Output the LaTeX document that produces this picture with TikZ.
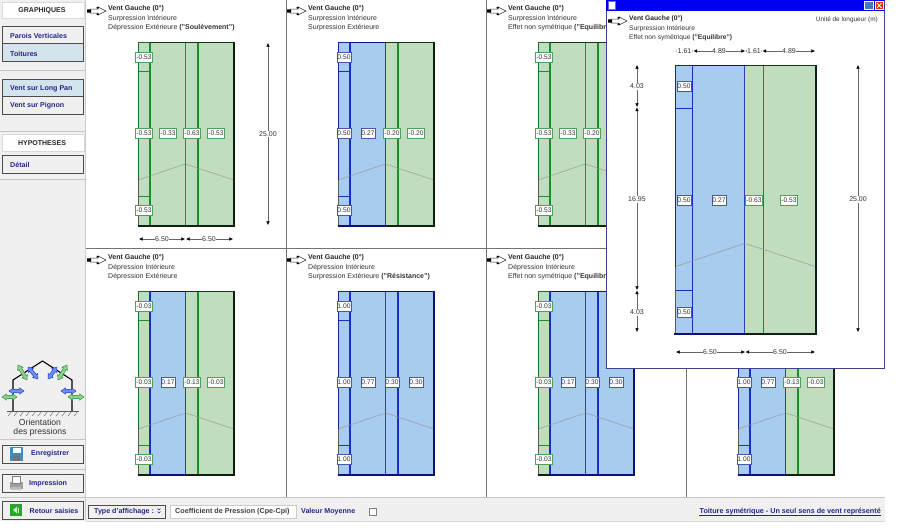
\documentclass[tikz,border=0pt]{standalone}
\usepackage{fontspec}
\setmainfont{Liberation Sans}
\usetikzlibrary{arrows.meta}
\definecolor{gF}{HTML}{C1DDBF}\definecolor{bF}{HTML}{A8CBF0}
\definecolor{gL}{HTML}{1E8C2E}\definecolor{bL}{HTML}{1830C0}
\definecolor{gD}{HTML}{0E3A14}\definecolor{bD}{HTML}{10107A}
\definecolor{gE}{HTML}{102010}\definecolor{bE}{HTML}{10107A}
\definecolor{gV}{HTML}{4CA05A}\definecolor{bV}{HTML}{4A55B0}
\definecolor{uiBg}{HTML}{F0F0F0}\definecolor{uiSel}{HTML}{D4E4EC}
\definecolor{navy}{HTML}{25258A}\definecolor{txt}{HTML}{333333}
\def\tsz{7}
\tikzset{
  smalltext/.style={font=\fontsize{\tsz}{8}\selectfont,text=txt,inner sep=0pt,anchor=west},
  boldtext/.style={font=\fontsize{\tsz}{8}\selectfont\bfseries,text=black!85,inner sep=0pt,anchor=west},
  uitext/.style={font=\fontsize{7.1}{8}\selectfont\bfseries,text=navy,inner sep=0pt,anchor=west},
  valbox/.style={font=\fontsize{6.7}{8}\selectfont,text=txt,fill=white,inner sep=0pt,minimum height=10pt,line width=.7pt},
  dimline/.style={draw=gray!80!black,line width=.5pt,{Latex[length=3.6pt,width=3.6pt,black]}-{Latex[length=3.6pt,width=3.6pt,black]}},
  dimtext/.style={font=\fontsize{7}{8}\selectfont,text=txt,fill=white,inner sep=.6pt},
  divider/.style={draw=gray!90!black,line width=1pt},
  sep/.style={draw=gray!45,line width=1pt},
  uibtn/.style={draw=black!70,line width=.9pt},
}
\newcounter{idc}
\newcommand\val[4]{\stepcounter{idc}\node[valbox,draw=#1V,minimum width=\ifx g#1 17pt\else 14pt\fi] (v\arabic{idc}) at (#2,#3) {#4};}
% building in local coordinates 0..96 x 0..184
\newcommand\bldg[4]{%
  \fill[#1F] (0,0) rectangle (12,184);
  \fill[#2F] (12,0) rectangle (47.5,184);
  \fill[#3F] (47.5,0) rectangle (60,184);
  \fill[#4F] (60,0) rectangle (96,184);
  \draw[#1L,line width=1pt] (0,29.5) -- (12,29.5) (0,154) -- (12,154);
  \draw[#2L,line width=1.2pt] (12,0) -- (12,184);
  \draw[#2L!80!gray,line width=.9pt] (47.5,0) -- (47.5,184);
  \draw[#4L,line width=1.2pt] (60,0) -- (60,184);
  \draw[gray!80,line width=.5pt] (0,138) -- (47.5,122) -- (96,138);
  \draw[#1L!80!black,line width=1pt] (0,138) -- (0,0) -- (12,0);
  \draw[#2D,line width=1pt] (12,0) -- (47.5,0);
  \draw[#3D,line width=1pt] (47.5,0) -- (60,0);
  \draw[#4D,line width=1pt] (60,0) -- (96,0);
  \draw[gray!70!black,line width=1pt] (0,138) -- (0,184);
  \draw[#4E,line width=1.1pt] (96,0) -- (96,184);
  \draw[#1E,line width=1.1pt] (-.5,184) -- (12,184);
  \draw[#2E,line width=1.1pt] (12,184) -- (47.5,184);
  \draw[#3E,line width=1.1pt] (47.5,184) -- (60,184);
  \draw[#4E,line width=1.1pt] (60,184) -- (96.5,184);
}
\newcommand\wind[2]{%
  \begin{scope}[shift={(#1,#2)}]
  \draw[fill=white,draw=black!80,line width=.5pt] (3,-2) -- (11,-2) -- (11,-4) -- (19,0) -- (11,4) -- (11,2) -- (3,2) -- cycle;
  \fill[black] (0,-1.7) rectangle (4,1.7) (9.5,-4.2) rectangle (11.5,-2.4) (9.5,2.4) rectangle (11.5,4.2);
  \end{scope}}
\newcommand\ptitle[5]{% x y l1 l2 l3
  \wind{#1-21}{#2+3}
  \stepcounter{idc}\node[boldtext] (t\arabic{idc}) at (#1,#2+1) {#3};
  \stepcounter{idc}\node[smalltext] (t\arabic{idc}) at (#1,#2+10.5) {#4};
  \stepcounter{idc}\node[smalltext] (t\arabic{idc}) at (#1,#2+19.5) {#5};}
\newcommand\dimarrow[4]{% x1 y1 x2 y2
  \stepcounter{idc}\coordinate (da\arabic{idc}) at (#1,#2);\coordinate (db\arabic{idc}) at (#3,#4);
  \draw[dimline] (da\arabic{idc}) -- (db\arabic{idc});}
\newcommand\dimlabel[3]{\stepcounter{idc}\node[dimtext] (d\arabic{idc}) at (#1,#2) {#3};}
\newcommand\dblarrow[6]{% x1 y1 x2 y2 colfill coldraw
  \begin{scope}[shift={(#1,#2)}]
  \pgfmathsetmacro\dx{#3-#1}\pgfmathsetmacro\dy{#4-#2}
  \pgfmathsetmacro\aang{atan2(\dy,\dx)}\pgfmathsetmacro\len{sqrt(\dx*\dx+\dy*\dy)}
  \begin{scope}[rotate=-\aang]
  \draw[fill=#5,draw=#6,line width=.4pt] (0,0) -- (4.5,-3.2) -- (4.5,-1.6) -- (\len-4.5,-1.6) -- (\len-4.5,-3.2) -- (\len,0) -- (\len-4.5,3.2) -- (\len-4.5,1.6) -- (4.5,1.6) -- (4.5,3.2) -- cycle;
  \end{scope}\end{scope}}
\definecolor{arG}{HTML}{8CCF90}\definecolor{arB}{HTML}{6C90F0}
\begin{document}
\begin{tikzpicture}[x=1pt,y=-1pt]
\useasboundingbox (0,0) rectangle (900,531);
\fill[white] (0,0) rectangle (900,531);
% dividers
\draw[divider] (86,248) -- (885,248);
\draw[divider] (286,0) -- (286,497) (486,0) -- (486,497) (686,0) -- (686,497);
% panels row 1
\ptitle{108}{8}{Vent Gauche (0°)}{Surpression Intérieure}{Dépression Extérieure \textbf{("Soulèvement")}}
\begin{scope}[shift={(138,42)}]\bldg{g}{g}{g}{g}
\val{g}{6}{15}{-0.53}\val{g}{6}{91}{-0.53}\val{g}{6}{168}{-0.53}
\val{g}{30}{91}{-0.33}\val{g}{54}{91}{-0.63}\val{g}{78}{91}{-0.53}\end{scope}
\dimarrow{268}{43}{268}{225}\dimlabel{268}{134}{25.00}
\dimarrow{139}{239}{185}{239}\dimarrow{186}{239}{233}{239}
\dimlabel{162}{239}{6.50}\dimlabel{209}{239}{6.50}

\ptitle{308}{8}{Vent Gauche (0°)}{Surpression Intérieure}{Surpression Extérieure}
\begin{scope}[shift={(338,42)}]\bldg{b}{b}{g}{g}
\val{b}{6}{15}{0.50}\val{b}{6}{91}{0.50}\val{b}{6}{168}{0.50}
\val{b}{30}{91}{0.27}\val{g}{54}{91}{-0.20}\val{g}{78}{91}{-0.20}\end{scope}

\ptitle{508}{8}{Vent Gauche (0°)}{Surpression Intérieure}{Effet non symétrique \textbf{("Equilibre")}}
\begin{scope}[shift={(538,42)}]\bldg{g}{g}{g}{g}
\val{g}{6}{15}{-0.53}\val{g}{6}{91}{-0.53}\val{g}{6}{168}{-0.53}
\val{g}{30}{91}{-0.33}\val{g}{54}{91}{-0.20}\end{scope}

% panels row 2
\ptitle{108}{257}{Vent Gauche (0°)}{Dépression Intérieure}{Dépression Extérieure}
\begin{scope}[shift={(138,291)}]\bldg{g}{b}{g}{g}
\val{g}{6}{15}{-0.03}\val{g}{6}{91}{-0.03}\val{g}{6}{168}{-0.03}
\val{b}{30}{91}{0.17}\val{g}{54}{91}{-0.13}\val{g}{78}{91}{-0.03}\end{scope}

\ptitle{308}{257}{Vent Gauche (0°)}{Dépression Intérieure}{Surpression Extérieure \textbf{("Résistance")}}
\begin{scope}[shift={(338,291)}]\bldg{b}{b}{b}{b}
\val{b}{6}{15}{1.00}\val{b}{6}{91}{1.00}\val{b}{6}{168}{1.00}
\val{b}{30}{91}{0.77}\val{b}{54}{91}{0.30}\val{b}{78}{91}{0.30}\end{scope}

\ptitle{508}{257}{Vent Gauche (0°)}{Dépression Intérieure}{Effet non symétrique \textbf{("Equilibre")}}
\begin{scope}[shift={(538,291)}]\bldg{g}{b}{b}{b}
\val{g}{6}{15}{-0.03}\val{g}{6}{91}{-0.03}\val{g}{6}{168}{-0.03}
\val{b}{30}{91}{0.17}\val{b}{54}{91}{0.30}\val{b}{78}{91}{0.30}\end{scope}

\begin{scope}[shift={(738,291)}]\bldg{b}{b}{g}{g}
\val{b}{6}{91}{1.00}\val{b}{6}{168}{1.00}
\val{b}{30}{91}{0.77}\val{g}{54}{91}{-0.13}\val{g}{78}{91}{-0.03}\end{scope}

% popup window
\draw[draw=black!40!blue!50!gray,fill=white,line width=.8pt] (606,0) rectangle (884,368);
\fill[blue!95!black] (606,0) rectangle (884,11);
\fill[white] (608.5,1.5) rectangle (615,9);\draw[blue!60!white,line width=.5pt] (608.5,1.5) rectangle (615,9);
\draw[white,fill=blue!30!gray!80!cyan,line width=.5pt] (864.5,1.5) rectangle (873.5,9.5);
\draw[white,fill=red!70!orange,line width=.5pt] (875,1.5) rectangle (883.5,9.5);
\draw[white,line width=.8pt] (877,3) -- (881.5,8) (881.5,3) -- (877,8);
\begingroup\def\tsz{6.7}
\ptitle{629}{18}{Vent Gauche (0°)}{Surpression Intérieure}{Effet non symétrique \textbf{("Equilibre")}}
\endgroup
\node[smalltext,anchor=east,font=\fontsize{6.4}{8}\selectfont] (unit) at (878,19.5) {Unité de longueur (m)};
\begin{scope}[shift={(675,65)},xscale=1.469,yscale=1.462]\bldg{b}{b}{g}{g}\end{scope}
\val{b}{684}{86.5}{0.50}\val{b}{684}{200}{0.50}\val{b}{684}{312.5}{0.50}
\val{b}{719}{200}{0.27}\val{g}{754}{200}{-0.63}\val{g}{789}{200}{-0.53}
\dimarrow{676}{51}{693}{51}\dimarrow{693.5}{51}{745}{51}\dimarrow{745.5}{51}{762}{51}\dimarrow{762.5}{51}{815}{51}
\dimlabel{684.5}{51}{1.61}\dimlabel{719}{51}{4.89}\dimlabel{754}{51}{1.61}\dimlabel{789}{51}{4.89}
\dimarrow{637}{65}{637}{107}\dimarrow{637}{107.5}{637}{290}\dimarrow{637}{290.5}{637}{332}
\dimlabel{637}{86.5}{4.03}\dimlabel{637}{199.5}{16.95}\dimlabel{637}{312.5}{4.03}
\dimarrow{858}{65}{858}{332}\dimlabel{858}{199.5}{25.00}
\dimarrow{676}{352}{745}{352}\dimarrow{745.5}{352}{815}{352}
\dimlabel{710}{352}{6.50}\dimlabel{780}{352}{6.50}

% bottom bar
\fill[uiBg] (86,497) rectangle (885,521);
\draw[gray!45,line width=1pt] (86,497.5) -- (885,497.5);
\draw[gray!30,line width=1pt] (86,521.5) -- (885,521.5);
\draw[uibtn,line width=.8pt,fill=uiBg] (88.5,505) rectangle (165,518);
\node[uitext] (typeaff) at (94,512) {Type d'affichage :};
\draw[navy,line width=.6pt] (157.5,508.5) -- (159,510) -- (160.5,508.5) (157.5,511.5) -- (159,513) -- (160.5,511.5);
\draw[gray!40,fill=white,line width=.7pt] (170.5,505) rectangle (296,518);
\node[uitext,text=black!75,font=\fontsize{7.2}{8}\selectfont\bfseries] (coef) at (175,512) {Coefficient de Pression (Cpe-Cpi)};
\node[uitext] (moy) at (301,512) {Valeur Moyenne};
\draw[gray,fill=white,line width=.7pt] (369.5,508) rectangle (376,515);
\node[uitext,anchor=east,font=\fontsize{7.2}{8}\selectfont\bfseries] (lien) at (881,512) {Toiture symétrique - Un seul sens de vent représenté};
\draw[navy,line width=.5pt] (lien.west |- 0,515.5) -- (lien.east |- 0,515.5);

% sidebar
\fill[uiBg] (0,0) rectangle (85,521);
\draw[gray!40,line width=1pt] (85.5,0) -- (85.5,521);
\draw[draw=gray!30,fill=white,line width=.8pt] (2,2) rectangle (84,18);
\node[boldtext,anchor=center] (graph) at (42,11) {GRAPHIQUES};
\draw[uibtn,fill=uiBg] (2.5,26) rectangle (83,43.5);
\draw[uibtn,fill=uiSel] (2.5,43.5) rectangle (83,61.5);
\node[uitext] (parois) at (10,36) {Parois Verticales};
\node[uitext] (toit) at (10,54) {Toitures};
\draw[sep] (0,70) -- (85,70);
\draw[uibtn,fill=uiSel] (2.5,79) rectangle (83,96.5);
\draw[uibtn,fill=uiBg] (2.5,96.5) rectangle (83,114);
\node[uitext] (long) at (10,89) {Vent sur Long Pan};
\node[uitext] (pignon) at (10,106) {Vent sur Pignon};
\draw[sep] (0,131) -- (85,131);
\draw[draw=gray!30,fill=white,line width=.8pt] (2,134) rectangle (84,151);
\node[boldtext,anchor=center] (hyp) at (42,143) {HYPOTHESES};
\draw[uibtn,fill=uiBg] (2.5,155) rectangle (83,173);
\node[uitext] (det) at (10,165) {Détail};
\draw[sep] (0,179) -- (85,179);
% orientation figure
\draw[black,line width=1.1pt] (13,411) -- (13,380) -- (42.5,361) -- (72,380) -- (72,411);
\draw[gray!70!black,line width=.6pt] (7,411) -- (79,411);
\foreach \hx in {8,14,...,74} \draw[gray!70!black,line width=.4pt] (\hx,416) -- (\hx+4,411);
\dblarrow{9}{391}{24}{391}{arB}{bL}
\dblarrow{61}{391}{76}{391}{arB}{bL}
\dblarrow{2}{397}{17}{397}{arG}{gL}
\dblarrow{68}{397}{84}{397}{arG}{gL}
\dblarrow{18}{365}{27}{380}{arG}{gL}
\dblarrow{28}{367}{38}{379}{arB}{bL}
\dblarrow{57}{367}{48}{379}{arB}{bL}
\dblarrow{67}{365}{58}{380}{arG}{gL}
\node[font=\fontsize{8.6}{9}\selectfont,text=txt,inner sep=0pt] (ori1) at (40,422.5) {Orientation};
\node[font=\fontsize{8.6}{9}\selectfont,text=txt,inner sep=0pt] (ori2) at (40,432.5) {des pressions};
\draw[sep] (0,439) -- (85,439);
\draw[uibtn,fill=uiBg] (2.5,445) rectangle (83,463);
\fill[blue!40!cyan!50!gray] (10,447) rectangle (23,461);
\fill[white] (12.5,447.5) rectangle (20.5,453);
\fill[black!55] (13,456) rectangle (20,461);
\node[uitext] (enreg) at (31,454) {Enregistrer};
\draw[sep] (0,469) -- (85,469);
\draw[uibtn,fill=uiBg] (2.5,474) rectangle (83,492);
\fill[gray!75] (9.5,482) rectangle (23,489);
\fill[white] (12,476) rectangle (20,483);\draw[gray,line width=.4pt] (12,476) rectangle (20,483);
\fill[gray!50] (11,487) rectangle (21,490);
\node[uitext] (impr) at (29,484) {Impression};
\draw[sep] (0,497) -- (85,497);
\draw[uibtn,fill=uiBg] (2.5,501) rectangle (83,519);
\fill[green!60!black!85] (10,504) rectangle (22,516);
\fill[white!70!green] (13,510) -- (17,506.5) -- (17,513.5) -- cycle;
\fill[white!70!green] (18,507.5) rectangle (19,512.5);
\node[uitext] (ret) at (29.5,511) {Retour saisies};
\end{tikzpicture}
\end{document}
